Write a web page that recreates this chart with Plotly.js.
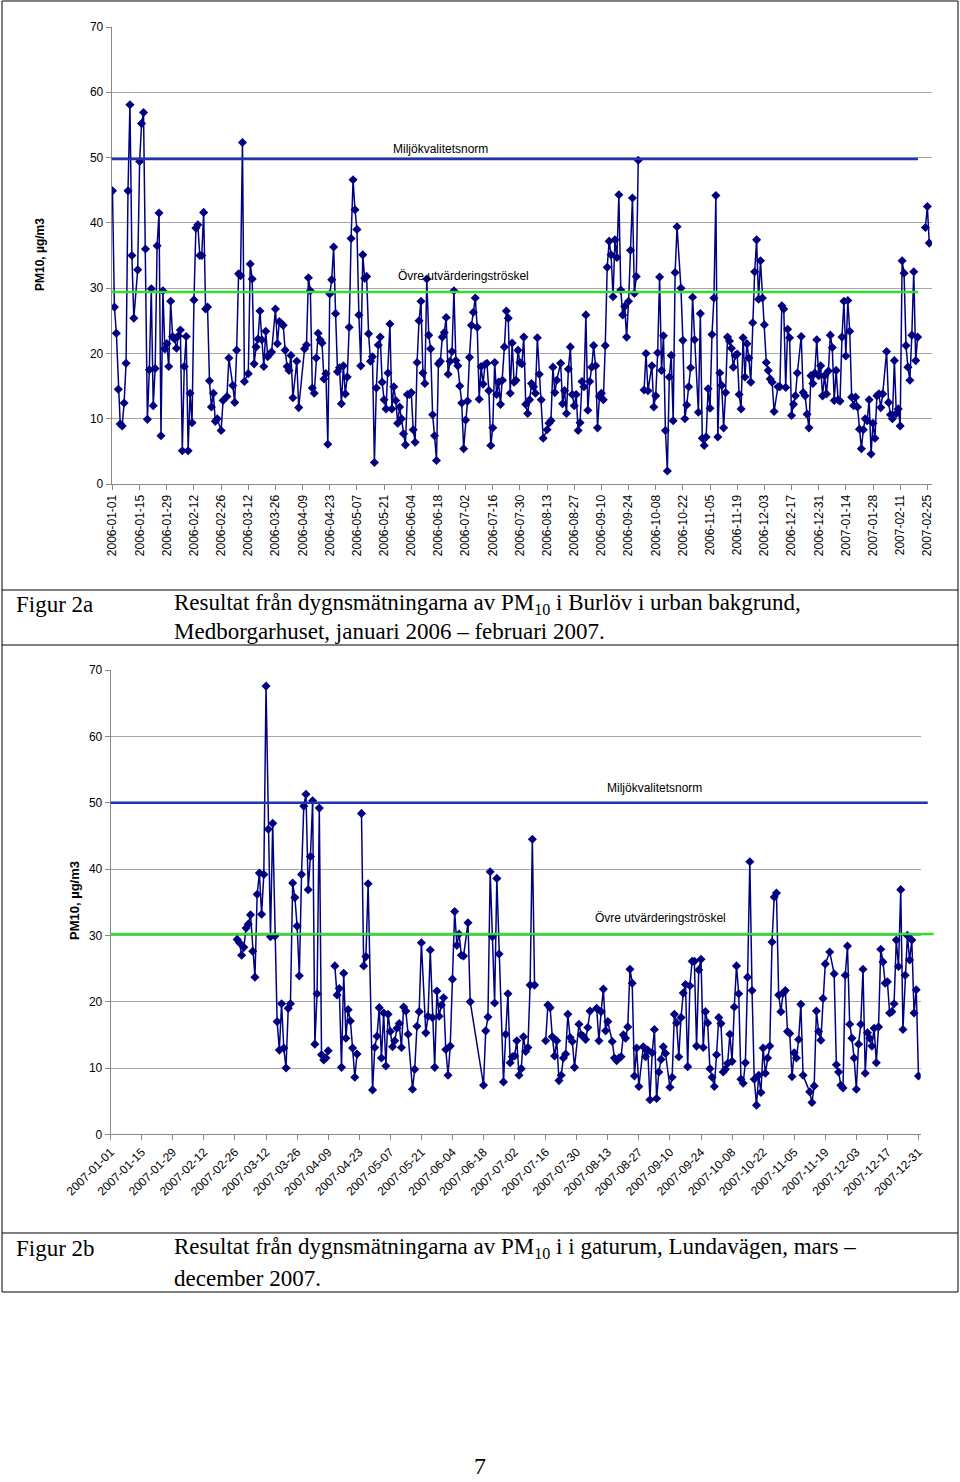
<!DOCTYPE html>
<html><head><meta charset="utf-8">
<script src="https://cdn.plot.ly/plotly-3.0.1.min.js"></script>
<style>html,body{margin:0;padding:0;background:#fff}#chart{width:960px;height:1482px}</style>
</head><body><div id="chart"></div>
<script>
// ---- Figure 2a: Burlöv, Medborgarhuset (days counted from 2006-01-01) ----
const startA = '2006-01-01';
const dayA = [0,1,2,3,4,5,6,7,8,9,10,11,13,14,15,16,17,18,19,20,21,22,23,24,25,26,27,28,29,30,31,32,33,34,35,36,37,38,39,40,41,42,43,44,45,46,47,48,49,50,51,52,53,54,56,57,59,60,62,63,64,65,66,67,68,70,71,72,73,74,75,76,77,78,79,80,81,82,84,85,86,87,88,89,90,91,92,93,95,96,99,100,101,102,103,104,105,106,107,108,109,110,111,112,113,114,115,116,117,118,119,120,121,122,123,124,125,126,127,128,129,130,131,132,133,134,135,136,137,138,139,140,141,142,143,144,145,146,147,148,149,150,151,152,153,154,155,156,157,158,159,160,161,162,163,164,165,166,167,168,169,170,171,172,173,174,175,176,177,178,179,180,181,182,183,184,185,186,187,188,189,190,191,192,193,194,195,196,197,198,199,200,201,202,203,204,205,206,207,208,209,210,211,212,213,214,215,216,217,218,219,220,221,222,224,225,226,227,228,229,231,232,233,234,235,236,237,238,239,240,241,242,243,244,245,246,247,248,249,250,251,252,253,254,255,256,257,258,259,260,261,262,263,264,265,266,267,268,269,270,271,272,274,275,276,278,279,280,281,282,283,284,285,286,287,288,289,290,291,293,294,295,296,297,298,299,300,302,303,304,305,306,307,308,309,310,311,312,313,314,315,316,317,318,319,320,321,322,323,324,325,326,327,328,329,330,331,332,333,334,335,336,337,338,339,340,341,343,344,345,346,347,348,349,350,351,352,353,355,356,357,358,359,360,361,362,363,364,365,366,367,368,369,370,371,372,373,374,375,376,377,378,379,380,381,382,383,384,385,386,387,388,389,390,391,392,393,394,395,396,397,399,400,401,402,403,404,405,406,407,408,409,410,411,412,413,414,415,417,419,420,421];
const pmA = [44.9,27.1,23.1,14.5,9.2,8.9,12.4,18.5,44.9,58.1,35.0,25.4,32.8,49.4,55.2,56.9,36.0,9.9,17.5,29.9,12.0,17.7,36.5,41.5,7.4,29.6,20.7,21.5,18.0,28.0,22.6,22.2,20.8,22.7,23.6,5.1,18.0,22.6,5.1,13.9,9.4,28.2,39.2,39.7,35.0,35.0,41.6,26.8,27.1,15.8,11.8,13.9,9.6,10.0,8.2,12.8,13.4,19.3,15.1,12.5,20.5,32.2,31.9,52.3,15.7,16.9,33.7,31.4,18.4,21.0,22.2,26.5,22.1,18.0,23.4,19.5,19.9,20.2,26.8,21.5,24.9,24.6,24.3,20.5,18.0,17.4,19.7,13.2,18.8,11.7,20.7,21.3,31.6,29.6,14.7,13.9,19.3,23.1,22.1,21.6,16.1,16.9,6.1,29.1,31.3,36.3,26.1,17.2,17.8,12.3,18.1,13.8,16.4,24.0,37.6,46.6,42.0,39.0,25.9,18.1,35.1,31.5,31.8,23.0,18.8,19.5,3.3,14.7,21.3,22.5,15.6,12.9,11.5,17.0,24.5,11.5,14.9,12.8,9.3,11.8,10.0,7.7,6.0,13.7,13.7,14.0,8.3,6.4,18.6,25.0,28.0,17.0,15.4,31.4,22.8,20.7,10.6,7.4,3.6,18.4,18.8,22.5,23.2,25.5,16.8,18.8,20.3,29.6,18.9,18.1,15.0,12.4,5.4,9.8,12.7,19.4,24.3,26.3,28.5,24.0,13.0,18.0,15.3,18.3,18.5,14.3,5.9,8.6,18.6,13.7,15.6,12.2,15.9,21.0,26.5,25.4,13.9,21.6,15.6,15.9,20.5,18.6,18.4,22.5,12.2,10.8,12.9,15.4,14.9,13.9,22.4,16.8,12.9,7.0,8.3,9.3,9.7,17.9,14.0,15.9,18.5,12.3,14.3,10.8,17.6,21.0,13.7,12.0,13.7,8.2,9.4,15.7,14.9,25.9,11.3,15.7,17.9,21.2,18.1,8.6,13.4,13.9,12.9,21.2,33.2,37.2,35.1,28.7,37.4,34.7,44.3,29.7,25.9,27.2,22.5,28.0,35.8,43.8,29.2,31.8,49.6,null,14.4,20.0,14.3,18.1,11.8,13.5,20.1,31.7,17.4,22.7,8.2,2.0,16.4,19.7,9.7,32.4,39.4,30.0,22.0,10.0,12.1,14.9,17.8,28.6,22.1,11.0,26.1,7.0,5.9,7.2,14.6,11.6,22.9,28.5,44.2,7.2,17.0,15.1,8.6,14.0,22.5,21.9,20.8,17.9,19.7,19.9,13.7,11.5,22.4,16.4,21.5,19.3,15.6,24.7,32.5,37.4,28.3,34.2,28.5,24.4,18.6,17.4,16.1,15.6,11.1,14.9,14.9,27.3,26.8,14.8,23.7,22.4,10.5,12.2,13.5,17.0,22.6,14.0,13.5,10.7,8.6,16.6,15.4,17.0,22.1,16.6,18.1,13.5,16.6,13.8,17.3,22.8,20.9,12.8,17.4,12.9,12.7,22.5,28.0,19.6,28.1,23.4,13.3,12.0,13.3,11.8,8.4,5.4,8.3,10.0,9.7,12.9,4.6,9.3,7.0,13.5,13.8,11.7,13.8,20.3,12.5,10.6,10.0,18.9,10.8,11.5,8.9,34.2,32.3,21.2,17.9,15.9,22.8,32.5,18.9,22.5,null,39.3,42.5,36.9];
const ticksA = ['2006-01-01','2006-01-15','2006-01-29','2006-02-12','2006-02-26','2006-03-12','2006-03-26','2006-04-09','2006-04-23','2006-05-07','2006-05-21','2006-06-04','2006-06-18','2006-07-02','2006-07-16','2006-07-30','2006-08-13','2006-08-27','2006-09-10','2006-09-24','2006-10-08','2006-10-22','2006-11-05','2006-11-19','2006-12-03','2006-12-17','2006-12-31','2007-01-14','2007-01-28','2007-02-11','2007-02-25'];
const normA = 49.8, thrA = 29.4;

// ---- Figure 2b: Lundavägen (days counted from 2007-01-01) ----
const startB = '2007-01-01';
const dayB = [57,58,59,60,61,62,63,64,65,66,67,68,69,70,71,72,73,74,75,76,77,78,79,80,81,82,83,84,85,86,87,88,89,90,91,92,93,94,95,96,97,98,99,101,102,103,104,105,106,107,108,109,110,111,112,113,114,115,116,118,119,120,121,122,123,124,125,126,127,128,129,130,131,132,133,134,136,137,138,139,140,142,143,144,145,146,147,148,149,150,151,152,153,154,155,156,157,158,159,161,162,168,169,170,171,172,173,174,175,177,178,179,180,181,182,183,184,185,186,187,188,189,190,191,193,196,197,198,199,200,201,202,203,204,205,206,207,208,209,211,212,213,214,215,216,219,220,221,222,223,224,226,227,228,229,230,231,232,233,234,235,236,237,238,240,241,242,243,244,245,246,247,248,249,250,252,253,254,255,256,257,258,259,260,261,262,263,264,265,266,267,268,269,270,271,272,273,274,275,276,277,278,279,280,281,282,283,284,285,286,287,288,289,290,291,292,293,294,295,296,297,298,299,300,301,302,303,304,305,306,307,308,309,310,311,312,315,316,317,318,319,320,321,322,324,326,327,328,329,330,331,332,333,334,335,336,337,338,339,340,341,342,343,344,345,346,347,348,349,350,351,352,353,354,355,356,357,358,359,360,361,362,363,364];
const pmB = [29.4,28.9,27.0,28.2,31.1,31.7,33.1,27.6,23.7,36.2,39.4,33.2,39.2,67.6,46.0,29.8,46.9,29.9,17.0,12.7,19.7,13.0,10.0,19.0,19.7,37.9,35.7,31.4,23.9,39.2,49.5,51.3,36.9,41.9,50.3,13.6,21.2,49.2,12.0,11.2,11.5,12.6,null,25.4,21.0,22.0,10.1,24.3,14.5,18.8,17.1,13.0,8.6,12.1,null,48.4,25.4,26.8,37.8,6.7,13.1,14.8,19.1,11.5,18.3,10.3,18.1,15.5,13.2,14.1,16.0,16.7,13.1,19.2,18.6,15.1,6.8,9.8,16.3,18.5,28.9,15.3,17.8,27.8,17.6,10.1,21.6,17.8,19.5,20.6,12.8,8.9,13.3,23.4,33.6,28.5,30.2,27.0,26.9,31.9,20.0,7.4,15.6,17.7,39.6,29.8,19.8,38.6,27.2,7.9,15.1,21.2,10.8,11.7,11.8,14.1,8.9,9.9,14.7,12.5,13.1,22.5,44.5,22.5,null,14.1,19.5,19.1,14.7,11.8,14.1,8.1,8.9,11.5,12.1,18.1,14.6,14.0,10.1,16.6,15.0,14.8,14.3,16.1,18.6,19.0,14.1,18.5,21.9,15.6,17.0,14.0,11.5,11.1,11.5,11.7,15.0,14.5,16.2,24.9,22.8,8.8,13.0,7.2,13.2,11.7,12.7,5.2,12.3,15.8,5.4,9.4,11.3,13.2,12.2,7.1,8.6,18.1,16.8,11.7,17.6,21.3,22.6,10.2,22.4,26.1,26.1,13.3,24.8,26.4,13.1,18.5,16.8,9.9,8.6,7.2,12.0,17.6,16.7,9.4,9.8,10.7,15.1,11.0,19.2,25.4,21.2,8.3,7.7,10.8,23.7,41.1,21.7,8.3,4.4,8.9,6.3,13.0,9.2,11.5,13.3,29.0,35.8,36.4,21.0,18.5,21.3,21.7,15.5,15.2,8.7,12.3,11.5,14.3,19.6,8.9,6.4,4.8,7.3,18.6,15.5,14.2,20.5,25.7,27.5,24.2,10.5,9.4,7.4,7.0,24.0,28.4,16.6,14.5,11.5,6.8,13.6,16.6,24.9,9.2,15.3,14.5,13.3,16.0,10.8,16.2,27.9,26.0,22.8,23.0,18.3,18.5,19.7,29.3,25.3,36.9,15.8,24.0,30.0,26.3,29.3,18.3,21.8,8.8];
const ticksB = ['2007-01-01','2007-01-15','2007-01-29','2007-02-12','2007-02-26','2007-03-12','2007-03-26','2007-04-09','2007-04-23','2007-05-07','2007-05-21','2007-06-04','2007-06-18','2007-07-02','2007-07-16','2007-07-30','2007-08-13','2007-08-27','2007-09-10','2007-09-24','2007-10-08','2007-10-22','2007-11-05','2007-11-19','2007-12-03','2007-12-17','2007-12-31'];
const normB = 50.0, thrB = 30.2;

const yTitle = 'PM10, µg/m3';
const normLabel = 'Miljökvalitetsnorm';
const thrLabel = 'Övre utvärderingströskel';

// ---- helpers ----
const W = 960, H = 1482;
const px = x => x / W, py = y => 1 - y / H;
function toDate(start, d) {
  const t = Date.parse(start + 'T00:00:00Z') + d * 86400000;
  return new Date(t).toISOString().slice(0, 19).replace('T', ' ');
}
const sans = 'Liberation Sans, Arial, sans-serif';
const serif = 'Liberation Serif, Times New Roman, serif';
const navy = '#000080', blueRef = '#2233b0', greenRef = '#33dd33';

const series = (start, days, vals, xa, ya) => ({
  type: 'scatter', mode: 'lines+markers',
  x: days.map(d => toDate(start, d)), y: vals,
  xaxis: xa, yaxis: ya,
  line: {color: navy, width: 1.5},
  marker: {symbol: 'diamond', size: 7, color: navy},
  connectgaps: false, hoverinfo: 'x+y', showlegend: false
});

const xCommon = {
  type: 'date', showgrid: false, zeroline: false, showline: true, linecolor: '#888', linewidth: 1,
  ticks: 'outside', ticklen: 5, tickcolor: '#888', tickfont: {family: sans, size: 12, color: '#000'}
};
const yCommon = {
  range: [0, 70], dtick: 10, tick0: 0, showgrid: true, gridcolor: '#a6a6a6', gridwidth: 1,
  zeroline: false, showline: true, linecolor: '#888', linewidth: 1,
  ticks: 'outside', ticklen: 5, tickcolor: '#888', tickfont: {family: sans, size: 12, color: '#000'}
};

// annotation helper: absolute pixel position, explicit anchors
const note = (x, y, text, font, extra) => Object.assign({
  xref: 'paper', yref: 'paper', x: px(x), y: py(y), text: text, showarrow: false,
  xanchor: 'center', yanchor: 'middle', font: font
}, extra || {});
const fLab = {family: sans, size: 12, color: '#000'};
const fCap = {family: serif, size: 23, color: '#000'};

const layout = {
  width: W, height: H, margin: {l: 0, r: 0, t: 0, b: 0},
  paper_bgcolor: '#fff', plot_bgcolor: '#fff', showlegend: false,
  xaxis: Object.assign({}, xCommon, {
    domain: [px(111.7), px(932)], anchor: 'y',
    range: [toDate(startA, -0.4), toDate(startA, 422.4)],
    tickvals: ticksA, ticktext: ticksA, tickangle: -90
  }),
  yaxis: Object.assign({}, yCommon, {domain: [py(484), py(27)], anchor: 'x'}),
  xaxis2: Object.assign({}, xCommon, {
    domain: [px(110.7), px(920.7)], anchor: 'y2',
    range: [toDate(startB, 0), toDate(startB, 365)],
    tickvals: ticksB, ticktext: ticksB, tickangle: -45
  }),
  yaxis2: Object.assign({}, yCommon, {domain: [py(1134.3), py(670.2)], anchor: 'x2'}),
  shapes: [
    // reference lines
    {type: 'line', xref: 'x domain', yref: 'y', x0: 0, x1: 0.983, y0: normA, y1: normA, line: {color: blueRef, width: 2.5}},
    {type: 'line', xref: 'x domain', yref: 'y', x0: 0, x1: 0.983, y0: thrA, y1: thrA, line: {color: greenRef, width: 2.5}},
    {type: 'line', xref: 'x2 domain', yref: 'y2', x0: 0, x1: 1.0087, y0: normB, y1: normB, line: {color: blueRef, width: 2.5}},
    {type: 'line', xref: 'x2 domain', yref: 'y2', x0: 0, x1: 1.016, y0: thrB, y1: thrB, line: {color: greenRef, width: 2.5}},
    // page frame / table borders
    {type: 'rect', xref: 'paper', yref: 'paper', x0: px(2), x1: px(958), y0: py(1292), y1: py(1), line: {color: '#000', width: 1}},
    {type: 'line', xref: 'paper', yref: 'paper', x0: px(2), x1: px(958), y0: py(590), y1: py(590), line: {color: '#000', width: 1}},
    {type: 'line', xref: 'paper', yref: 'paper', x0: px(2), x1: px(958), y0: py(645), y1: py(645), line: {color: '#000', width: 1}},
    {type: 'line', xref: 'paper', yref: 'paper', x0: px(2), x1: px(958), y0: py(1233), y1: py(1233), line: {color: '#000', width: 1}}
  ],
  annotations: [
    note(440, 149, normLabel, fLab),
    note(463, 276, thrLabel, fLab),
    note(654, 788, normLabel, fLab),
    note(660, 918, thrLabel, fLab),
    note(40, 255, '<b>' + yTitle + '</b>', fLab, {textangle: -90}),
    note(74, 901, '<b>' + yTitle + '</b>', {family: sans, size: 13, color: '#000'}, {textangle: -90}),
    note(14, 604, 'Figur 2a', fCap, {xanchor: 'left'}),
    note(172, 604, 'Resultat från dygnsmätningarna av PM<sub>10</sub> i Burlöv i urban bakgrund,', fCap, {xanchor: 'left'}),
    note(172, 631, 'Medborgarhuset, januari 2006 – februari 2007.', fCap, {xanchor: 'left'}),
    note(14, 1248, 'Figur 2b', fCap, {xanchor: 'left'}),
    note(172, 1248, 'Resultat från dygnsmätningarna av PM<sub>10</sub> i i gaturum, Lundavägen, mars –', fCap, {xanchor: 'left'}),
    note(172, 1278, 'december 2007.', fCap, {xanchor: 'left'}),
    note(480, 1466, '7', {family: serif, size: 24, color: '#000'})
  ]
};

Plotly.newPlot('chart', [
  series(startA, dayA, pmA, 'x', 'y'),
  series(startB, dayB, pmB, 'x2', 'y2')
], layout, {displayModeBar: false, staticPlot: true});
</script>
</body></html>
